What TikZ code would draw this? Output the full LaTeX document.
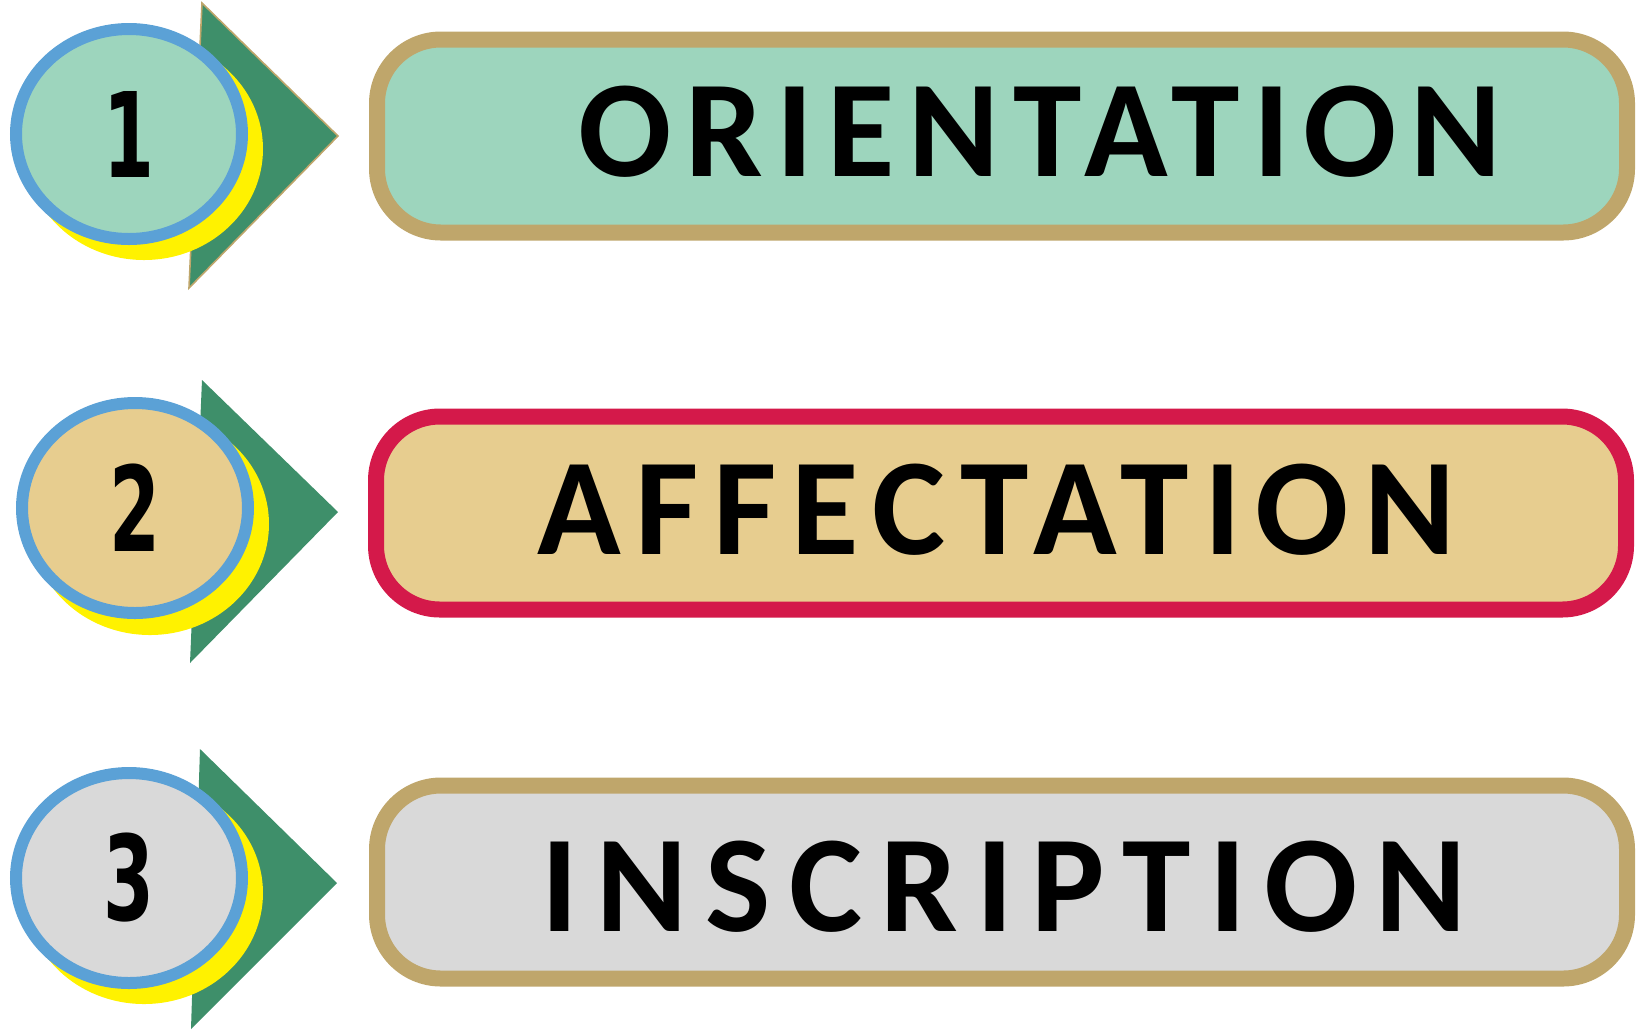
\documentclass[tikz,border=0pt]{standalone}
\usepackage{fontspec}
\setmainfont{Carlito}
\newfontfamily\numfont{DejaVu Sans Bold}
\usetikzlibrary{shapes.geometric}

\definecolor{mint}{HTML}{9DD5BD}
\definecolor{sand}{HTML}{E7CD8F}
\definecolor{silver}{HTML}{D9D9D9}
\definecolor{khaki}{HTML}{BFA66B}
\definecolor{crimson}{HTML}{D4194A}
\definecolor{ringblue}{HTML}{5BA1D6}
\definecolor{arrowgreen}{HTML}{3E8F6A}

\newcommand{\stepnum}[1]{\scalebox{0.62}[1]{\numfont #1}}

\tikzset{
  shadowdisc/.style={ellipse, fill=yellow, minimum width=119pt, minimum height=111pt, inner sep=0pt},
  numdisc/.style={ellipse, draw=ringblue, line width=6pt, minimum width=113pt, minimum height=105pt,
    inner sep=0pt, font=\fontsize{59}{60}\selectfont},
  stepbar/.style={rectangle, rounded corners=32pt, line width=8pt, minimum width=625pt, minimum height=96.5pt},
  steptext/.style={font=\fontsize{69}{72}\selectfont\bfseries\addfontfeature{LetterSpace=#1}, inner sep=0pt},
}

\begin{document}
\begin{tikzpicture}[x=0.5pt,y=-0.5pt]
\useasboundingbox (0,0) rectangle (1637,1030);

\fill[arrowgreen, draw=khaki, line width=0.8pt] (202,3) -- (338,136) -- (189,288) -- cycle;
\node[shadowdisc] (shadow1) at (144,149) {};
\node[numdisc, fill=mint] (disc1) at (129,134) {\stepnum{1}};
\node[stepbar, draw=khaki, fill=mint] (bar1) at (1002,136) {};
\node[steptext=10] (label1) at (1040,132) {ORIENTATION};

\fill[arrowgreen] (202,380) -- (338,512) -- (190,663) -- cycle;
\node[shadowdisc] (shadow2) at (150,524) {};
\node[numdisc, fill=sand] (disc2) at (135,508) {\stepnum{2}};
\node[stepbar, draw=crimson, fill=sand] (bar2) at (1001,513) {};
\node[steptext=10.8] (label2) at (996,510) {AFFECTATION};

\fill[arrowgreen] (200,749) -- (337,883) -- (191,1029) -- cycle;
\node[shadowdisc] (shadow3) at (144,893) {};
\node[numdisc, fill=silver] (disc3) at (129,878) {\stepnum{3}};
\node[stepbar, draw=khaki, fill=silver] (bar3) at (1002,882) {};
\node[steptext=13.2] (label3) at (1004,887) {INSCRIPTION};
\end{tikzpicture}
\end{document}
